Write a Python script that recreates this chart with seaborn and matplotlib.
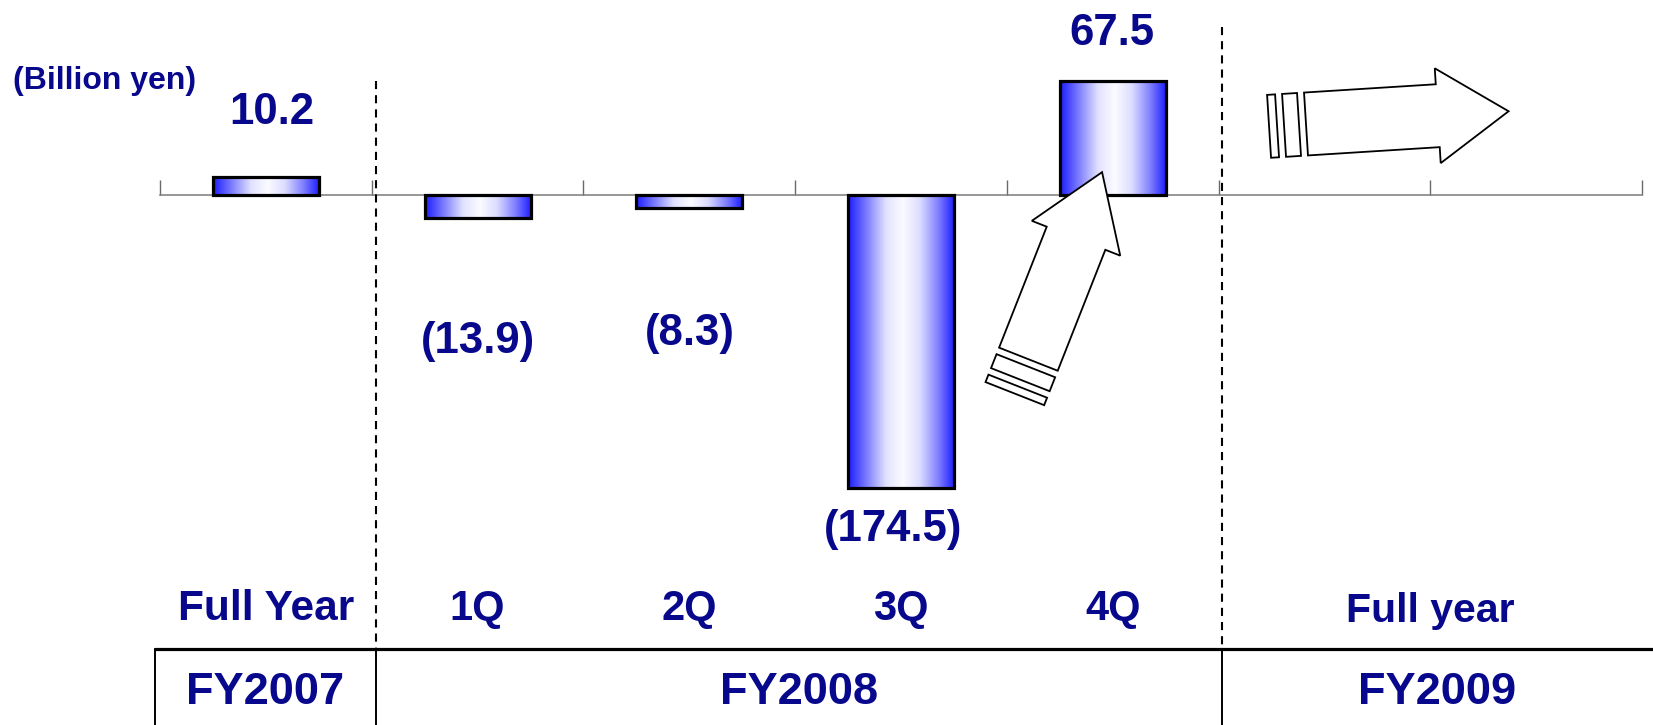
import numpy as np
import pandas as pd
import matplotlib
matplotlib.use("Agg")
import matplotlib.pyplot as plt
from matplotlib.colors import LinearSegmentedColormap
from matplotlib.patches import Polygon
from matplotlib.lines import Line2D
import seaborn as sns

# ---- data -------------------------------------------------------------
slots = ["FY2007", "1Q", "2Q", "3Q", "4Q", "FY2009a", "FY2009b"]
bar_slots = ["FY2007", "1Q", "2Q", "3Q", "4Q"]
values = [10.2, -13.9, -8.3, -174.5, 67.5]
period_labels = ["Full Year", "1Q", "2Q", "3Q", "4Q"]
fy2009_label = "Full year"
fiscal_years = ["FY2007", "FY2008", "FY2009"]
unit_label = "(Billion yen)"

# ---- layout / style ---------------------------------------------------
W, H = 1653, 725
NAVY = "#08088C"
PX_PER_UNIT = 1.68
AXIS_Y = 194.5             # zero line, pixels from top
AX_LEFT, AX_RIGHT = 160, 1642

sns.set_theme(style="white")
plt.rcParams["font.family"] = ["Liberation Sans", "DejaVu Sans"]
plt.rcParams["font.weight"] = "bold"

fig = plt.figure(figsize=(W / 100, H / 100), dpi=100)
fig.patch.set_facecolor("white")


def fx(px):
    return px / W


def fy(py):
    return 1 - py / H


ax = fig.add_axes([fx(AX_LEFT), 0, (AX_RIGHT - AX_LEFT) / W, 1])
ax.set_facecolor("none")

df = pd.DataFrame({"slot": bar_slots, "value": values})
sns.barplot(data=df, x="slot", y="value", order=slots, width=0.5,
            color="white", errorbar=None, ax=ax)

ax.set_xlim(-0.5, len(slots) - 0.5)
ax.set_ylim(-(H - AXIS_Y) / PX_PER_UNIT, AXIS_Y / PX_PER_UNIT)

# horizontal blue-white-blue shading inside each bar
shade = LinearSegmentedColormap.from_list("bar_shade", [
    (0.00, "#1c1cff"), (0.16, "#7474ff"), (0.36, "#e2e2ff"),
    (0.52, "#fbfbff"), (0.68, "#dcdcff"), (0.86, "#7c7cff"),
    (1.00, "#2020ff")])
grad = np.linspace(0, 1, 256).reshape(1, -1)
for patch in list(ax.patches):
    x0, y0 = patch.get_x(), patch.get_y()
    w, h = patch.get_width(), patch.get_height()
    im = ax.imshow(grad, cmap=shade, aspect="auto", interpolation="bicubic",
                   extent=[x0, x0 + w, min(y0, y0 + h), max(y0, y0 + h)],
                   zorder=2.6)
    im.set_clip_path(patch)
    patch.set_facecolor("none")
    patch.set_edgecolor("black")
    patch.set_linewidth(2.3)
    patch.set_zorder(3)

ax.set_xlim(-0.5, len(slots) - 0.5)
ax.set_ylim(-(H - AXIS_Y) / PX_PER_UNIT, AXIS_Y / PX_PER_UNIT)

# zero axis with upward boundary ticks
for side in ["top", "left", "right"]:
    ax.spines[side].set_visible(False)
ax.spines["bottom"].set_position(("data", 0))
ax.spines["bottom"].set_color("#7a7a7a")
ax.spines["bottom"].set_linewidth(1.1)
ax.spines["bottom"].set_zorder(2)
ax.set_xticks(np.arange(-0.5, len(slots)))
ax.set_xticklabels([])
ax.set_yticks([])
ax.tick_params(axis="x", direction="in", length=10.8, width=1.0,
               color="#6a6a6a", bottom=True)
ax.set_xlabel("")
ax.set_ylabel("")
ax.grid(False)

# value labels, offset from the bar ends (pixels: dx, dy downward)
label_offsets = [(6, -65), (0, 124), (1, 125), (-8, 42), (-1, -48)]
for i, (v, (dx, dy)) in enumerate(zip(values, label_offsets)):
    txt = f"{v:.1f}" if v >= 0 else f"({abs(v):.1f})"
    ax.annotate(txt, xy=(i, v), xytext=(dx * 0.72, -dy * 0.72),
                textcoords="offset points", ha="center", va="center",
                fontsize=31.5, fontweight="bold", color=NAVY, zorder=5)

# period labels under the bars
for i, lab in enumerate(period_labels):
    size = 30.5 if i == 0 else 30
    ax.text(i, (AXIS_Y - 609) / PX_PER_UNIT, lab, ha="center", va="center",
            fontsize=size, fontweight="bold", color=NAVY)
ax.text(5.5, (AXIS_Y - 611) / PX_PER_UNIT, fy2009_label, ha="center",
        va="center", fontsize=29.5, fontweight="bold", color=NAVY)

fig.text(fx(13), fy(81), unit_label, ha="left", va="center", fontsize=23,
         fontweight="bold", color=NAVY)

# period separators (dashed) and the fiscal-year table below
TABLE_TOP = 649
sep_x = [376, 1222]
sep_top = [81, 27]
for x, top in zip(sep_x, sep_top):
    fig.add_artist(Line2D([fx(x), fx(x)], [fy(top), fy(TABLE_TOP)],
                          color="black", lw=1.5, linestyle=(0, (3.9, 2.9))))
    fig.add_artist(Line2D([fx(x), fx(x)], [fy(TABLE_TOP), fy(H)],
                          color="black", lw=1.4))
fig.add_artist(Line2D([fx(154.5), fx(W)], [fy(TABLE_TOP), fy(TABLE_TOP)],
                      color="black", lw=2.3))
fig.add_artist(Line2D([fx(154.5), fx(154.5)], [fy(TABLE_TOP), fy(H)],
                      color="black", lw=1.4))
col_edges = [154.5, 376, 1222, W]
for k, fy_lab in enumerate(fiscal_years):
    cx = (col_edges[k] + col_edges[k + 1]) / 2
    fig.text(fx(cx), fy(693), fy_lab, ha="center", va="center", fontsize=32.5,
             fontweight="bold", color=NAVY)


# outlined "motion" block arrows
def motion_arrow(tail, angle_deg, shaft_len=130, head_len=71, shaft_w=63,
                 head_w=95, stripes=(15, 8), gap=7):
    a = np.deg2rad(angle_deg)
    d = np.array([np.cos(a), -np.sin(a)])
    n = np.array([np.sin(a), np.cos(a)])
    tail = np.asarray(tail, float)

    def to_fig(pts):
        out = [tail + u * d + v * n for u, v in pts]
        return [(fx(p[0]), fy(p[1])) for p in out]

    body = [(0, -shaft_w / 2), (shaft_len, -shaft_w / 2),
            (shaft_len, -head_w / 2), (shaft_len + head_len, 0),
            (shaft_len, head_w / 2), (shaft_len, shaft_w / 2),
            (0, shaft_w / 2)]
    shapes = [body]
    u = 0
    for t in stripes:
        u1 = u - gap
        u0 = u1 - t
        shapes.append([(u0, -shaft_w / 2), (u1, -shaft_w / 2),
                       (u1, shaft_w / 2), (u0, shaft_w / 2)])
        u = u0
    for pts in shapes:
        fig.add_artist(Polygon(to_fig(pts), closed=True, facecolor="white",
                               edgecolor="black", lw=1.3, zorder=6,
                               joinstyle="miter"))


motion_arrow((1028.4, 359.2), 68.5)
motion_arrow((1306, 124), 3.6, shaft_len=132)

fig.savefig("out.png", dpi=100, facecolor="white")
